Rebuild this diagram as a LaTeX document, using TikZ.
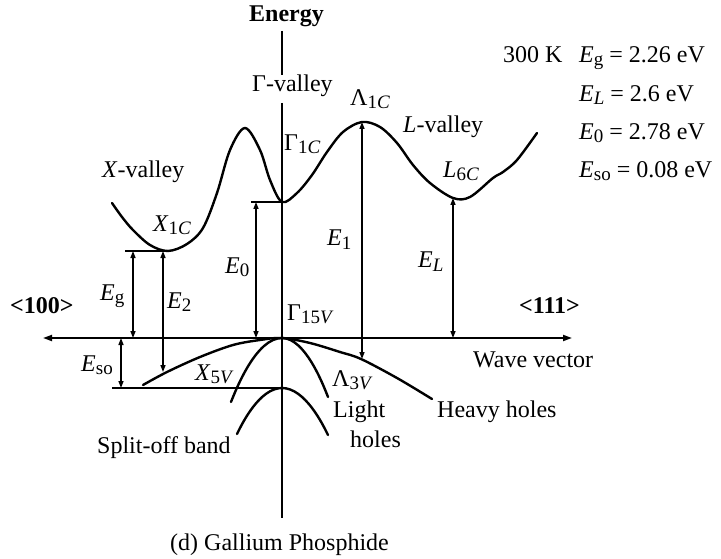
\documentclass[tikz,border=0pt]{standalone}
\usepackage{fontspec}
\setmainfont{Liberation Serif}
\usetikzlibrary{arrows.meta}
\newcommand\lo[1]{\raisebox{-3pt}{\fontsize{19}{19}\selectfont #1}}
\begin{document}
\begin{tikzpicture}[x=1pt,y=-1pt,font=\fontsize{24}{28}\selectfont,
  lbl/.style={anchor=base west,inner sep=0pt},
  bold/.style={font=\fontsize{24}{28}\selectfont\bfseries},
  axis/.style={line width=1.8pt},
  band/.style={line width=2.4pt,line cap=round,line join=round},
  dbl/.style={line width=1.3pt,{Triangle[length=7pt,width=5pt]}-{Triangle[length=7pt,width=5pt]}},
  refl/.style={line width=1.3pt}]
\useasboundingbox (0,0) rectangle (721,559);
% axes
\coordinate (ytop) at (282,31);
\coordinate (ygap1) at (282,75);
\coordinate (ygap2) at (282,103);
\coordinate (ybot) at (282,518);
\coordinate (xl) at (43,338);
\coordinate (xr) at (572,338);
\draw[axis] (ytop) -- (ygap1);
\draw[axis] (ygap2) -- (ybot);
\draw[axis,{Triangle[length=9pt,width=6pt]}-{Triangle[length=9pt,width=6pt]}] (xl) -- (xr);
% key points
\coordinate (Xmin) at (168,251);
\coordinate (Gmin) at (282,202);
\coordinate (Lam) at (362,122);
\coordinate (Lmin) at (453,198);
\coordinate (G15) at (282,338);
\coordinate (SO) at (282,388);
% conduction band
\draw[band] plot[smooth,tension=0.55] coordinates {(112,203) (122,217) (133,230) (150,245) (168,251) (187,244) (203,228) (217,193) (230,150) (245,128) (260,150) (270,180) (282,202) (297,193) (312,175) (327,152) (343,132) (362,122) (380,127) (397,143) (413,165) (430,183) (453,198) (470,197) (493,178) (503,172) (517,160) (537,133)};
% valence bands
\draw[band] plot[smooth,tension=0.55] coordinates {(143,385) (167,372) (200,357) (233,345) (260,340) (282,338) (310,343) (340,352) (361,359) (397,378) (432,399)};
\draw[band] (231,402) parabola bend (G15) (328,397);
\draw[band] (237,434) parabola bend (SO) (328,435);
% reference lines
\coordinate (xl1) at (125,251);
\coordinate (gl1) at (251,202);
\coordinate (sl1) at (112,388);
\draw[refl] (xl1) -- (Xmin);
\draw[refl] (gl1) -- (Gmin);
\draw[refl] (sl1) -- (SO);
% arrows
\coordinate (eg1) at (133,251); \coordinate (eg2) at (133,338);
\coordinate (e21) at (163,251); \coordinate (e22) at (163,372);
\coordinate (e01) at (256,202); \coordinate (e02) at (256,338);
\coordinate (e11) at (362,122); \coordinate (e12) at (362,359);
\coordinate (el1) at (453,198); \coordinate (el2) at (453,338);
\coordinate (es1) at (121,338); \coordinate (es2) at (121,388);
\draw[dbl] (eg1) -- (eg2);
\draw[dbl] (e21) -- (e22);
\draw[dbl] (e01) -- (e02);
\draw[dbl] (e11) -- (e12);
\draw[dbl] (el1) -- (el2);
\draw[dbl] (es1) -- (es2);
% labels
\node[lbl,bold] (energy) at (249,22) {Energy};
\node[lbl] (gval) at (252,92) {Γ-valley};
\node[lbl] (xval) at (102,178) {\textit{X}-valley};
\node[lbl] (x1c) at (153,232) {\textit{X}\lo{1\textit{C}}};
\node[lbl] (g1c) at (284,151) {Γ\lo{1\textit{C}}};
\node[lbl] (l1c) at (350,106) {Λ\lo{1\textit{C}}};
\node[lbl] (lval) at (403,133) {\textit{L}-valley};
\node[lbl] (l6c) at (443,178) {\textit{L}\lo{6\textit{C}}};
\node[lbl] (e0) at (225,273) {\textit{E}\lo{0}};
\node[lbl] (e1) at (327,246) {\textit{E}\lo{1}};
\node[lbl] (el) at (418,268) {\textit{E}\lo{\textit{L}}};
\node[lbl] (egl) at (100,300) {\textit{E}\lo{g}};
\node[lbl] (e2) at (167,308) {\textit{E}\lo{2}};
\node[lbl] (g15) at (287,320) {Γ\lo{15\textit{V}}};
\node[lbl] (esol) at (81,371) {\textit{E}\lo{so}};
\node[lbl] (x5v) at (195,380) {\textit{X}\lo{5\textit{V}}};
\node[lbl] (l3v) at (332,386) {Λ\lo{3\textit{V}}};
\node[lbl] (light) at (333,417) {Light};
\node[lbl] (holes) at (350,447) {holes};
\node[lbl] (heavy) at (437,417) {Heavy holes};
\node[lbl] (split) at (97,453) {Split-off band};
\node[lbl,bold] (d100) at (10,313) {<100>};
\node[lbl,bold] (d111) at (519,313) {<111>};
\node[lbl] (wave) at (473,367) {Wave vector};
\node[lbl] (title) at (170,550) {(d) Gallium Phosphide};
% parameters
\node[lbl] (temp) at (503,63) {300 K};
\node[lbl] (p1) at (579,63) {\textit{E}\lo{g} = 2.26 eV};
\node[lbl] (p2) at (579,102) {\textit{E}\lo{\textit{L}} = 2.6 eV};
\node[lbl] (p3) at (579,140) {\textit{E}\lo{0} = 2.78 eV};
\node[lbl] (p4) at (579,178) {\textit{E}\lo{so} = 0.08 eV};
\end{tikzpicture}
\end{document}
